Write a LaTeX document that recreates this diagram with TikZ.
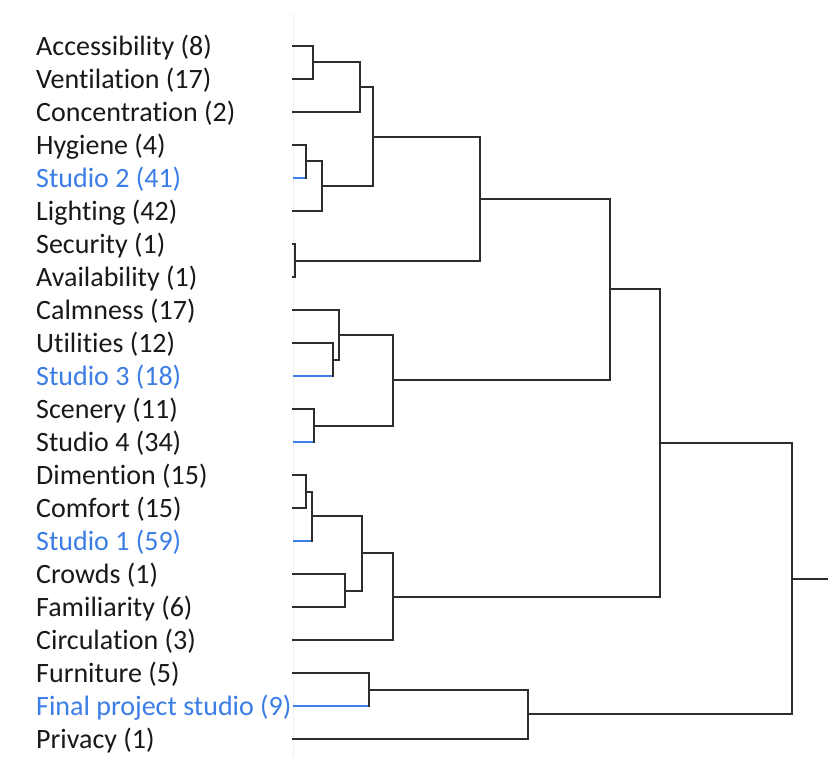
\documentclass[tikz,border=0pt]{standalone}
\usepackage{fontspec}
\setmainfont[Ligatures={NoCommon,NoContextual}]{Carlito}
\definecolor{txt}{RGB}{25,25,25}
\definecolor{ln}{RGB}{45,45,45}
\definecolor{bl}{RGB}{60,125,230}
\newcommand\dgjoin[5]{%
  \draw[#4] (#1) -- (#1 -| #3);
  \draw[#5] (#2) -- (#2 -| #3);
  \draw[br] (#1 -| #3) -- (#2 -| #3);}
\begin{document}
\begin{tikzpicture}[x=1pt,y=-1pt,
  lab/.style={anchor=west,inner sep=0pt,font=\fontsize{28}{30}\selectfont,text=txt,yshift=-1.5pt},
  blab/.style={lab,text=bl},
  br/.style={draw=ln,line width=2pt,line cap=rect},
  bb/.style={draw=bl,line width=2pt}]
\useasboundingbox (0,0) rectangle (828,757);
\fill[white] (0,0) rectangle (828,757);
\draw[gray!12,line width=1pt] (293,13) -- (293,757);
% labels
\node[lab]  (n1)  at (36,46)  {Accessibility (8)};
\node[lab]  (n2)  at (36,79)  {Ventilation (17)};
\node[lab]  (n3)  at (36,112) {Concentration (2)};
\node[lab]  (n4)  at (36,145) {Hygiene (4)};
\node[blab] (n5)  at (36,178) {Studio 2 (41)};
\node[lab]  (n6)  at (36,211) {Lighting (42)};
\node[lab]  (n7)  at (36,244) {Security (1)};
\node[lab]  (n8)  at (36,277) {Availability (1)};
\node[lab]  (n9)  at (36,310) {Calmness (17)};
\node[lab]  (n10) at (36,343) {Utilities (12)};
\node[blab] (n11) at (36,376) {Studio 3 (18)};
\node[lab]  (n12) at (36,409) {Scenery (11)};
\node[lab]  (n13) at (36,442) {Studio 4 (34)};
\node[lab]  (n14) at (36,475) {Dimention (15)};
\node[lab]  (n15) at (36,508) {Comfort (15)};
\node[blab] (n16) at (36,541) {Studio 1 (59)};
\node[lab]  (n17) at (36,574) {Crowds (1)};
\node[lab]  (n18) at (36,607) {Familiarity (6)};
\node[lab]  (n19) at (36,640) {Circulation (3)};
\node[lab]  (n20) at (36,673) {Furniture (5)};
\node[blab] (n21) at (36,706) {Final project studio (9)};
\node[lab]  (n22) at (36,739) {Privacy (1)};
% leaf ends
\foreach \i/\y in {1/46,2/79,3/112,4/145,5/178,6/211,7/244,8/277,9/310,10/343,11/376,12/409,13/442,14/475,15/508,16/541,17/574,18/607,19/640,20/673,21/706,22/739}
  \coordinate (L\i) at (293,\y);
% joins
\coordinate (J1)  at (313,62.5);
\coordinate (J2)  at (360,87.25);
\coordinate (J3)  at (306,161.5);
\coordinate (J4)  at (322,186.25);
\coordinate (J5)  at (373,136.75);
\coordinate (J6)  at (295,260.5);
\coordinate (J7)  at (480,198.6);
\coordinate (J8)  at (333,359.5);
\coordinate (J9)  at (339,334.75);
\coordinate (J10) at (314,425.5);
\coordinate (J11) at (393,380.1);
\coordinate (J12) at (610,289.4);
\coordinate (J13) at (306,491.5);
\coordinate (J14) at (312,516.25);
\coordinate (J15) at (345,590.5);
\coordinate (J16) at (362,553.4);
\coordinate (J17) at (393,596.7);
\coordinate (J18) at (660,443);
\coordinate (J19) at (369,689.5);
\coordinate (J20) at (528,714.25);
\coordinate (J21) at (792,578.6);
\coordinate (R)   at (828,578.6);
\dgjoin{L1}{L2}{J1}{br}{br}
\dgjoin{J1}{L3}{J2}{br}{br}
\dgjoin{L4}{L5}{J3}{br}{bb}
\dgjoin{J3}{L6}{J4}{br}{br}
\dgjoin{J2}{J4}{J5}{br}{br}
\dgjoin{L7}{L8}{J6}{br}{br}
\dgjoin{J5}{J6}{J7}{br}{br}
\dgjoin{L10}{L11}{J8}{br}{bb}
\dgjoin{L9}{J8}{J9}{br}{br}
\dgjoin{L12}{L13}{J10}{br}{bb}
\dgjoin{J9}{J10}{J11}{br}{br}
\dgjoin{J7}{J11}{J12}{br}{br}
\dgjoin{L14}{L15}{J13}{br}{br}
\dgjoin{J13}{L16}{J14}{br}{bb}
\dgjoin{L17}{L18}{J15}{br}{br}
\dgjoin{J14}{J15}{J16}{br}{br}
\dgjoin{J16}{L19}{J17}{br}{br}
\dgjoin{J12}{J17}{J18}{br}{br}
\dgjoin{L20}{L21}{J19}{br}{bb}
\dgjoin{J19}{L22}{J20}{br}{br}
\dgjoin{J18}{J20}{J21}{br}{br}
\draw[br,line cap=butt] (J21) -- (R);
\end{tikzpicture}
\end{document}
